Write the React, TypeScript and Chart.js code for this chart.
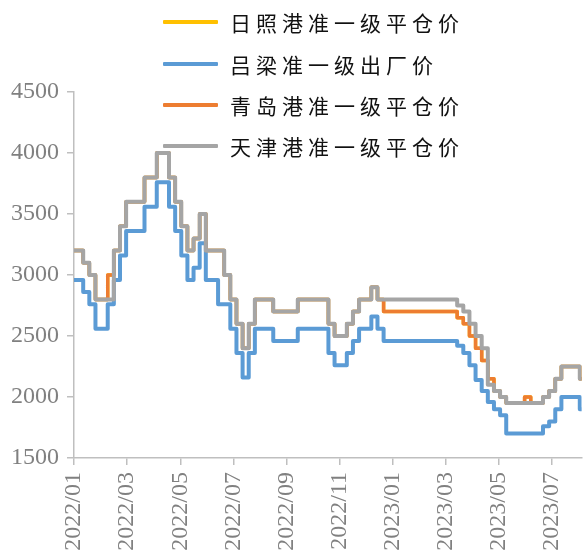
import React, { useEffect, useRef } from 'react';
import { Chart, registerables } from 'chart.js';

Chart.register(...registerables);

// Weekly observations starting 2022/01 (week index 0)
const rizhaoPrice = [
  3200, 3200, 3100, 3000, 2800, 2800, 3000, 3200, 3400, 3600,
  3600, 3600, 3800, 3800, 4000, 4000, 3800, 3600, 3400, 3200,
  3300, 3500, 3200, 3200, 3200, 3000, 2800, 2600, 2400, 2600,
  2800, 2800, 2800, 2700, 2700, 2700, 2700, 2800, 2800, 2800,
  2800, 2800, 2600, 2500, 2500, 2600, 2700, 2800, 2800, 2900,
  2800, 2700, 2700, 2700, 2700, 2700, 2700, 2700, 2700, 2700,
  2700, 2700, 2700, 2650, 2600, 2500, 2400, 2300, 2150, 2050,
  2000, 1950, 1950, 1950, 2000, 1950, 1950, 2000, 2050, 2150,
  2250, 2250, 2250, 2150,
];

const lvliangPrice = [
  2960, 2960, 2860, 2760, 2560, 2560, 2760, 2960, 3160, 3360,
  3360, 3360, 3560, 3560, 3760, 3760, 3560, 3360, 3160, 2960,
  3060, 3260, 2960, 2960, 2760, 2760, 2560, 2360, 2160, 2360,
  2560, 2560, 2560, 2460, 2460, 2460, 2460, 2560, 2560, 2560,
  2560, 2560, 2360, 2260, 2260, 2360, 2460, 2560, 2560, 2660,
  2560, 2460, 2460, 2460, 2460, 2460, 2460, 2460, 2460, 2460,
  2460, 2460, 2460, 2420, 2360, 2260, 2140, 2050, 1960, 1900,
  1850, 1700, 1700, 1700, 1700, 1700, 1700, 1760, 1800, 1900,
  2000, 2000, 2000, 1900,
];

const qingdaoPrice = [
  3200, 3200, 3100, 3000, 2800, 2800, 3000, 3200, 3400, 3600,
  3600, 3600, 3800, 3800, 4000, 4000, 3800, 3600, 3400, 3200,
  3300, 3500, 3200, 3200, 3200, 3000, 2800, 2600, 2400, 2600,
  2800, 2800, 2800, 2700, 2700, 2700, 2700, 2800, 2800, 2800,
  2800, 2800, 2600, 2500, 2500, 2600, 2700, 2800, 2800, 2900,
  2800, 2700, 2700, 2700, 2700, 2700, 2700, 2700, 2700, 2700,
  2700, 2700, 2700, 2650, 2600, 2500, 2400, 2300, 2150, 2050,
  2000, 1950, 1950, 1950, 2000, 1950, 1950, 2000, 2050, 2150,
  2250, 2250, 2250, 2150,
];

const tianjinPrice = [
  3200, 3200, 3100, 3000, 2800, 2800, 2800, 3200, 3400, 3600,
  3600, 3600, 3800, 3800, 4000, 4000, 3800, 3600, 3400, 3200,
  3300, 3500, 3200, 3200, 3200, 3000, 2800, 2600, 2400, 2600,
  2800, 2800, 2800, 2700, 2700, 2700, 2700, 2800, 2800, 2800,
  2800, 2800, 2600, 2500, 2500, 2600, 2700, 2800, 2800, 2900,
  2800, 2800, 2800, 2800, 2800, 2800, 2800, 2800, 2800, 2800,
  2800, 2800, 2800, 2750, 2700, 2600, 2500, 2400, 2100, 2050,
  2000, 1950, 1950, 1950, 1950, 1950, 1950, 2000, 2050, 2150,
  2250, 2250, 2250, 2150,
];

const seriesNames = ['日照港准一级平仓价', '吕梁准一级出厂价', '青岛港准一级平仓价', '天津港准一级平仓价'];
const seriesColors = ['#FFC000', '#5B9BD5', '#ED7D31', '#A5A5A5'];

const tickMonths = [0, 2, 4, 6, 8, 10, 12, 14, 16, 18];
const tickLabels = ['2022/01', '2022/03', '2022/05', '2022/07', '2022/09', '2022/11', '2023/01', '2023/03', '2023/05', '2023/07'];
const WEEKS_PER_MONTH = 52 / 12;
const X_MAX_WEEKS = 82.8;

const Y_MIN = 1500;
const Y_MAX = 4500;
const Y_STEP = 500;

const axisColor = '#BFBFBF';
const labelColor = '#808080';

const toPoints = (arr: number[]) => arr.map((v, i) => ({ x: i, y: v }));

export default function App() {
  const ref = useRef<HTMLCanvasElement>(null);

  useEffect(() => {
    if (!ref.current) return;
    const all = [rizhaoPrice, lvliangPrice, qingdaoPrice, tianjinPrice];
    const drawOrder = [3, 2, 1, 0];
    const widths = [3.5, 4, 3.5, 4];
    const chart = new Chart(ref.current, {
      type: 'line',
      data: {
        datasets: all.map((arr, i) => ({
          label: seriesNames[i],
          data: toPoints(arr),
          borderColor: seriesColors[i],
          backgroundColor: seriesColors[i],
          borderWidth: widths[i],
          pointRadius: 0,
          stepped: 'middle' as const,
          fill: false,
          order: drawOrder[i],
          borderJoinStyle: 'round' as const,
        })),
      },
      options: {
        animation: false,
        responsive: false,
        maintainAspectRatio: false,
        layout: { padding: { top: 92, right: 0, left: 0, bottom: 0 } },
        plugins: { legend: { display: false }, tooltip: { enabled: false } },
        scales: {
          x: {
            type: 'linear',
            min: 0,
            max: X_MAX_WEEKS,
            afterBuildTicks: (s: any) => {
              s.ticks = tickMonths.map((m) => ({ value: m * WEEKS_PER_MONTH }));
            },
            afterFit: (s: any) => {
              s.height = 100;
            },
            ticks: {
              autoSkip: false,
              minRotation: 90,
              maxRotation: 90,
              color: labelColor,
              padding: 7,
              font: { family: "'Liberation Serif', 'DejaVu Serif', serif", size: 24 },
              callback: (_v: any, i: number) => tickLabels[i],
            },
            grid: { drawOnChartArea: false, drawTicks: true, tickLength: 7, color: axisColor, lineWidth: 1.5 },
            border: { display: true, color: axisColor, width: 1.5 },
          },
          y: {
            type: 'linear',
            min: Y_MIN,
            max: Y_MAX,
            afterFit: (s: any) => {
              s.width = 74;
            },
            ticks: {
              stepSize: Y_STEP,
              color: labelColor,
              padding: 8,
              font: { family: "'Liberation Serif', 'DejaVu Serif', serif", size: 24 },
              callback: (v: any) => String(v),
            },
            grid: { drawOnChartArea: false, drawTicks: true, tickLength: 7, color: axisColor, lineWidth: 1.5 },
            border: { display: true, color: axisColor, width: 1.5 },
          },
        },
      },
    });
    return () => chart.destroy();
  }, []);

  const legendTops = [22, 63.5, 104.5, 146];

  return (
    <div style={{ position: 'absolute', left: 0, top: 0, width: 588, height: 558, overflow: 'hidden', background: '#fff' }}>
      <canvas ref={ref} width={588} height={558} style={{ display: 'block', width: 588, height: 558 }} />
      {seriesNames.map((name, i) => (
        <div
          key={name}
          style={{
            position: 'absolute',
            left: 163,
            top: legendTops[i] - 15,
            height: 30,
            display: 'flex',
            alignItems: 'center',
            pointerEvents: 'none',
          }}
        >
          <div style={{ width: 55, height: 4, background: seriesColors[i], borderRadius: 1 }} />
          <span
            style={{
              marginLeft: 12,
              fontFamily: "'Noto Sans CJK SC', sans-serif",
              fontSize: 21,
              letterSpacing: 5,
              color: '#111',
              lineHeight: '30px',
              whiteSpace: 'nowrap',
            }}
          >
            {name}
          </span>
        </div>
      ))}
    </div>
  );
}
